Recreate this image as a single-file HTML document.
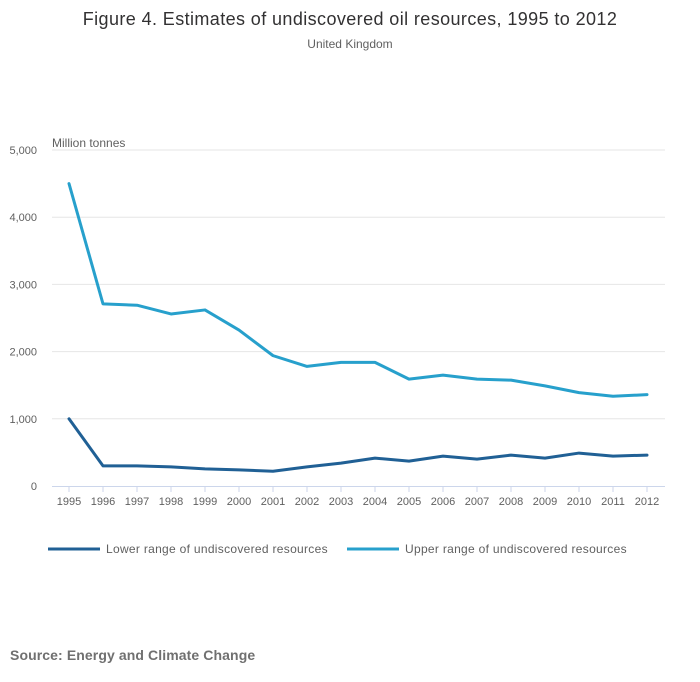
<!DOCTYPE html>
<html><head><meta charset="utf-8">
<style>
body{margin:0;background:#fff;font-family:"Liberation Sans",sans-serif;}
#wrap{position:relative;width:700px;height:682px;overflow:hidden;}
</style></head>
<body>
<div id="wrap">
<svg id="chart" width="700" height="682"></svg>
</div>
<script>
const years=[1995,1996,1997,1998,1999,2000,2001,2002,2003,2004,2005,2006,2007,2008,2009,2010,2011,2012];
const lowerValues=[1000,300,300,285,255,240,220,285,340,415,370,445,400,460,415,490,445,460];
const upperValues=[4500,2710,2690,2560,2620,2320,1940,1780,1840,1840,1590,1650,1590,1575,1490,1390,1335,1360];
const yTicks=[0,1000,2000,3000,4000,5000];
const yTickLabels=["0","1,000","2,000","3,000","4,000","5,000"];

const svg=document.getElementById('chart');
const NS='http://www.w3.org/2000/svg';
const x0=69,dx=34,yBase=486,yTop=150,yMax=5000;
function xs(i){return x0+i*dx;}
function ys(v){return yBase-(v/yMax)*(yBase-yTop);}
function mk(tag,attrs,parent){const e=document.createElementNS(NS,tag);for(const k in attrs)e.setAttribute(k,attrs[k]);(parent||svg).appendChild(e);return e;}

let t=mk('text',{x:350,y:25,'text-anchor':'middle','font-size':18,'letter-spacing':0.4,fill:'#323132'});t.textContent='Figure 4. Estimates of undiscovered oil resources, 1995 to 2012';


t=mk('text',{x:350,y:48,'text-anchor':'middle','font-size':12,fill:'#606060'});t.textContent='United Kingdom';


t=mk('text',{x:52,y:147,'font-size':12,fill:'#606060'});t.textContent='Million tonnes';



yTicks.forEach((v,i)=>{
  if(v>0){const g=mk('line',{x1:52,x2:665,y1:ys(v),y2:ys(v),stroke:'#e6e6e6','stroke-width':1});
  
  }
  const l=mk('text',{x:37,y:ys(v)+4,'text-anchor':'end','font-size':11,fill:'#606060'});l.textContent=yTickLabels[i];
  
  
});
const ax=mk('line',{x1:52,x2:665,y1:yBase+0.5,y2:yBase+0.5,stroke:'#ccd6eb','stroke-width':1});


years.forEach((yr,i)=>{
  const tk=mk('line',{x1:xs(i),x2:xs(i),y1:yBase,y2:yBase+6,stroke:'#ccd6eb'});
  
  
  const l=mk('text',{x:xs(i),y:505,'text-anchor':'middle','font-size':11,fill:'#606060'});l.textContent=yr;
  
  
});
function line(vals,color,name){
  const d=vals.map((v,i)=>(i?'L':'M')+xs(i)+','+ys(v)).join(' ');
  const p=mk('path',{d:d,fill:'none',stroke:color,'stroke-width':3,'stroke-linejoin':'round','stroke-linecap':'round'});
  
  
}
line(upperValues,'#27a0cc','upper-range-line');
line(lowerValues,'#206095','lower-range-line');

function legend(x,color,label,name){
  const g=mk('g',{});
  
  
  mk('line',{x1:x,x2:x+52,y1:549,y2:549,stroke:color,'stroke-width':3},g);
  const tx=mk('text',{x:x+58,y:553,'font-size':12,'letter-spacing':0.3,fill:'#606060'},g);tx.textContent=label;
}
legend(48,'#206095','Lower range of undiscovered resources','legend-entry-lower');
legend(347,'#27a0cc','Upper range of undiscovered resources','legend-entry-upper');

t=mk('text',{x:10,y:660,'font-size':14,'font-weight':'bold','letter-spacing':0.1,fill:'#707070'});t.textContent='Source: Energy and Climate Change';


</script>
</body></html>
